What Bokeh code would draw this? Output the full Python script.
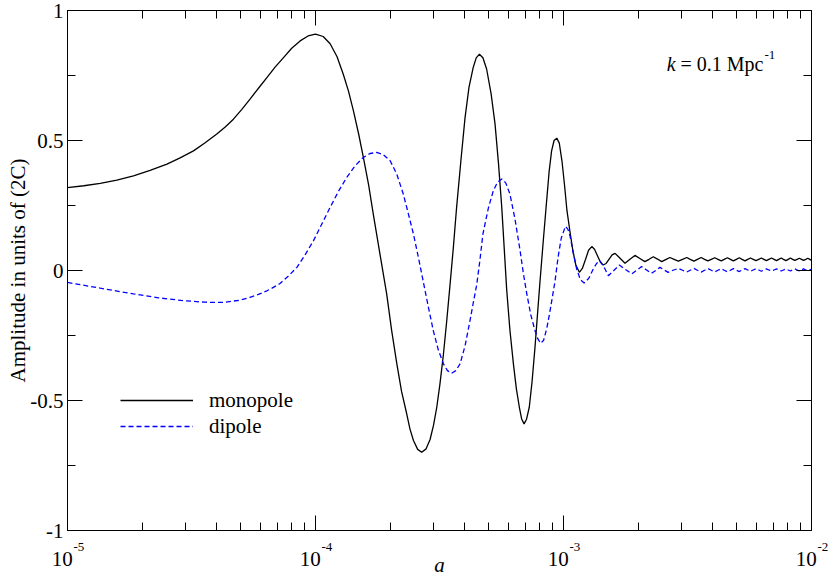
import numpy as np
from bokeh.plotting import figure
from bokeh.models import FixedTicker, LogAxis, LinearAxis, Label, Legend, LegendItem
from bokeh.embed import file_html
from bokeh.resources import INLINE

# ---------------- data ----------------
# monopole: log10(a) and amplitude in units of (2C)
mono_log_a = [
    -5.000, -4.934, -4.868, -4.801, -4.734, -4.667, -4.599, -4.546, -4.492, -4.445,
    -4.398, -4.364, -4.331, -4.297, -4.264, -4.230, -4.196, -4.163, -4.129, -4.096,
    -4.062, -4.030, -4.000, -3.969, -3.941, -3.913, -3.888, -3.867, -3.847, -3.826,
    -3.807, -3.786, -3.767, -3.740, -3.713, -3.693, -3.672, -3.653, -3.632, -3.619,
    -3.605, -3.588, -3.572, -3.554, -3.538, -3.524, -3.511, -3.498, -3.484, -3.471,
    -3.458, -3.444, -3.431, -3.413, -3.397, -3.381, -3.364, -3.352, -3.339, -3.325,
    -3.310, -3.292, -3.276, -3.262, -3.249, -3.239, -3.229, -3.216, -3.202, -3.190,
    -3.178, -3.169, -3.159, -3.149, -3.138, -3.127, -3.115, -3.105, -3.095, -3.081,
    -3.068, -3.058, -3.048, -3.038, -3.027, -3.017, -3.006, -2.996, -2.986, -2.974,
    -2.962, -2.950, -2.936, -2.924, -2.911, -2.899, -2.886, -2.875, -2.863, -2.851,
    -2.840, -2.828, -2.816, -2.804, -2.792, -2.772, -2.752, -2.732, -2.712, -2.692,
    -2.672, -2.655, -2.638, -2.621, -2.604, -2.588, -2.571, -2.554, -2.537, -2.520,
    -2.503, -2.489, -2.474, -2.460, -2.445, -2.431, -2.418, -2.404, -2.390, -2.377,
    -2.364, -2.352, -2.339, -2.327, -2.315, -2.303, -2.291, -2.280, -2.268, -2.257,
    -2.246, -2.235, -2.224, -2.213, -2.202, -2.192, -2.182, -2.172, -2.161, -2.151,
    -2.141, -2.132, -2.122, -2.113, -2.103, -2.094, -2.085, -2.076, -2.067, -2.058,
    -2.049, -2.040, -2.032, -2.023, -2.015, -2.007, -2.000,
]
mono_amp = [
    0.319, 0.326, 0.335, 0.348, 0.364, 0.385, 0.409, 0.433, 0.460, 0.491,
    0.525, 0.552, 0.582, 0.620, 0.659, 0.701, 0.742, 0.782, 0.819, 0.855,
    0.883, 0.902, 0.909, 0.900, 0.872, 0.822, 0.755, 0.690, 0.614, 0.525,
    0.435, 0.330, 0.217, 0.063, -0.090, -0.230, -0.359, -0.465, -0.552, -0.610,
    -0.654, -0.688, -0.699, -0.686, -0.650, -0.595, -0.526, -0.435, -0.321, -0.195,
    -0.060, 0.090, 0.243, 0.430, 0.588, 0.705, 0.781, 0.818, 0.832, 0.818,
    0.775, 0.680, 0.563, 0.410, 0.243, 0.085, -0.075, -0.230, -0.359, -0.455,
    -0.526, -0.570, -0.590, -0.572, -0.526, -0.430, -0.296, -0.170, -0.045, 0.120,
    0.268, 0.380, 0.460, 0.500, 0.509, 0.490, 0.420, 0.330, 0.230, 0.150,
    0.075, 0.020, -0.007, 0.008, 0.043, 0.078, 0.092, 0.082, 0.057, 0.032,
    0.021, 0.027, 0.044, 0.060, 0.066, 0.047, 0.028, 0.043, 0.058, 0.046,
    0.034, 0.043, 0.053, 0.044, 0.034, 0.042, 0.050, 0.043, 0.036, 0.043,
    0.050, 0.043, 0.036, 0.043, 0.050, 0.043, 0.037, 0.043, 0.049, 0.043,
    0.037, 0.043, 0.049, 0.043, 0.037, 0.043, 0.049, 0.043, 0.037, 0.043,
    0.048, 0.043, 0.038, 0.043, 0.048, 0.043, 0.038, 0.043, 0.048, 0.043,
    0.038, 0.043, 0.048, 0.043, 0.038, 0.043, 0.048, 0.043, 0.039, 0.043,
    0.047, 0.043, 0.039, 0.043, 0.047, 0.043, 0.039,
]

# dipole
dip_log_a = [
    -5.000, -4.868, -4.734, -4.634, -4.532, -4.445, -4.371, -4.304, -4.264, -4.230,
    -4.196, -4.170, -4.143, -4.110, -4.075, -4.042, -4.008, -3.975, -3.941, -3.907,
    -3.874, -3.840,
    -3.807, -3.780, -3.753, -3.726, -3.699, -3.672, -3.646, -3.626, -3.605, -3.585,
    -3.565, -3.545, -3.525, -3.505, -3.484, -3.468, -3.451, -3.434, -3.417, -3.397,
    -3.377, -3.364, -3.350, -3.337, -3.325, -3.303, -3.283, -3.266, -3.249, -3.233,
    -3.216, -3.196, -3.175, -3.162, -3.148, -3.132, -3.115, -3.104, -3.092, -3.080,
    -3.068, -3.056, -3.045, -3.034, -3.022, -3.009, -2.992, -2.982, -2.974, -2.961,
    -2.947, -2.932, -2.917, -2.898, -2.880, -2.866, -2.853, -2.836, -2.819, -2.797,
    -2.775, -2.750, -2.725, -2.705, -2.685, -2.665, -2.645, -2.628, -2.611, -2.594,
    -2.578, -2.558, -2.537, -2.520, -2.503, -2.489, -2.474, -2.460, -2.445, -2.431,
    -2.418, -2.404, -2.390, -2.377, -2.364, -2.352, -2.339, -2.327, -2.315, -2.303,
    -2.291, -2.280, -2.268, -2.257, -2.246, -2.235, -2.224, -2.213, -2.202, -2.192,
    -2.182, -2.172, -2.161, -2.151, -2.141, -2.132, -2.122, -2.113, -2.103, -2.094,
    -2.085, -2.076, -2.067, -2.058, -2.049, -2.040, -2.032, -2.023, -2.015, -2.007,
    -2.000,
]
dip_amp = [
    -0.046, -0.068, -0.090, -0.105, -0.116, -0.122, -0.123, -0.114, -0.103, -0.092,
    -0.078, -0.065, -0.050, -0.022, 0.012, 0.060, 0.115, 0.178, 0.243, 0.305,
    0.358, 0.403,
    0.435, 0.450, 0.454, 0.445, 0.422, 0.370, 0.294, 0.220, 0.140, 0.050,
    -0.045, -0.140, -0.231, -0.305, -0.359, -0.385, -0.395, -0.385, -0.359, -0.290,
    -0.193, -0.125, -0.055, 0.040, 0.140, 0.240, 0.307, 0.340, 0.352, 0.337,
    0.294, 0.200, 0.076, -0.010, -0.090, -0.170, -0.231, -0.262, -0.280, -0.268,
    -0.225, -0.165, -0.103, -0.040, 0.050, 0.125, 0.170, 0.158, 0.134, 0.070,
    0.006, -0.035, -0.048, -0.030, 0.006, 0.028, 0.038, 0.012, -0.020, 0.000,
    0.021, 0.004, -0.013, 0.001, 0.015, 0.002, -0.011, 0.000, 0.012, 0.002,
    -0.007, 0.001, 0.008, 0.001, -0.006, 0.001, 0.008, 0.001, -0.006, 0.001,
    0.008, 0.001, -0.005, 0.001, 0.007, 0.001, -0.005, 0.001, 0.007, 0.001,
    -0.004, 0.002, 0.007, 0.002, -0.003, 0.002, 0.007, 0.002, -0.003, 0.002,
    0.006, 0.002, -0.002, 0.002, 0.006, 0.002, -0.002, 0.002, 0.006, 0.002,
    -0.002, 0.002, 0.006, 0.002, -0.002, 0.002, 0.006, 0.002, -0.002, 0.002,
    0.005,
]

series_labels = ["monopole", "dipole"]

# axes
x_decades = [-5, -4, -3, -2]
x_tick_base = ["10", "10", "10", "10"]
x_tick_exp = ["-5", "-4", "-3", "-2"]
x_minor_mult = [2, 3, 4, 5, 6, 7, 8, 9]
y_ticks = [-1, -0.5, 0, 0.5, 1]
y_tick_labels = ["-1", "-0.5", "0", "0.5", "1"]
y_minor = [-0.75, -0.25, 0.25, 0.75]

x_title = "a"
y_title = "Amplitude in units of (2C)"
note_parts = ["k", "= 0.1 Mpc", "-1"]
note_log_a = -2.584
note_amp = 0.794

FONT = "Liberation Serif"
FS = 21  # px
NB = "\u00a0"  # non-breaking space used to shift centred tick labels sideways

# ---------------- figure ----------------
x_major = [10.0 ** d for d in x_decades]
x_minor = [m * 10.0 ** d for d in x_decades[:-1] for m in x_minor_mult]

p = figure(
    x_axis_type="log", x_range=(x_major[0], x_major[-1]), y_range=(y_ticks[0], y_ticks[-1]),
    frame_width=744, frame_height=520,
    min_border_left=67, min_border_right=19, min_border_top=10, min_border_bottom=40,
    output_backend="svg", toolbar_location=None,
    background_fill_color="white", border_fill_color="white",
)
p.grid.visible = False
p.outline_line_color = "black"
p.outline_line_width = 1


def style_axis(ax, ticker):
    ax.ticker = ticker
    ax.major_tick_in = 15
    ax.major_tick_out = 0
    ax.minor_tick_in = 8
    ax.minor_tick_out = 0
    ax.axis_line_color = "black"
    ax.major_tick_line_color = "black"
    ax.minor_tick_line_color = "black"
    ax.axis_line_width = 1
    ax.major_tick_line_width = 1
    ax.minor_tick_line_width = 1


def hide_labels(ax, ticks):
    ax.major_label_overrides = {t: "" for t in ticks}
    ax.major_label_text_font_size = "0px"
    ax.major_label_standoff = 0


# bottom x axis: ticks + exponent part of the 10^n labels
xb = p.xaxis[0]
style_axis(xb, FixedTicker(ticks=x_major, minor_ticks=x_minor))
xb.major_label_overrides = {t: NB * 7 + e for t, e in zip(x_major, x_tick_exp)}
xb.major_label_text_font = FONT
xb.major_label_text_font_size = "13px"
xb.major_label_text_color = "black"
xb.major_label_standoff = 8

# second bottom axis: the "10" part of the labels and the axis title
xb2 = LogAxis(ticker=FixedTicker(ticks=x_major, minor_ticks=[]))
xb2.axis_line_color = None
xb2.major_tick_line_color = None
xb2.minor_tick_line_color = None
xb2.major_tick_in = 0
xb2.major_tick_out = 0
xb2.minor_tick_in = 0
xb2.minor_tick_out = 0
xb2.major_label_overrides = {t: b + NB * 2 for t, b in zip(x_major, x_tick_base)}
xb2.major_label_text_font = FONT
xb2.major_label_text_font_size = f"{FS}px"
xb2.major_label_text_color = "black"
xb2.major_label_standoff = -10
xb2.axis_label = x_title
xb2.axis_label_text_font = FONT
xb2.axis_label_text_font_size = f"{FS}px"
xb2.axis_label_text_font_style = "italic"
xb2.axis_label_text_color = "black"
xb2.axis_label_standoff = -21
p.add_layout(xb2, "below")

# left y axis
yl = p.yaxis[0]
style_axis(yl, FixedTicker(ticks=y_ticks, minor_ticks=y_minor))
yl.major_label_overrides = {t: s for t, s in zip(y_ticks, y_tick_labels)}
yl.major_label_text_font = FONT
yl.major_label_text_font_size = f"{FS}px"
yl.major_label_text_color = "black"
yl.major_label_standoff = 4
yl.axis_label = y_title
yl.axis_label_text_font = FONT
yl.axis_label_text_font_size = f"{FS}px"
yl.axis_label_text_font_style = "normal"
yl.axis_label_text_color = "black"
yl.axis_label_standoff = -3

# mirrored top / right axes (ticks only)
xt = LogAxis()
style_axis(xt, FixedTicker(ticks=x_major, minor_ticks=x_minor))
hide_labels(xt, x_major)
p.add_layout(xt, "above")

yr = LinearAxis()
style_axis(yr, FixedTicker(ticks=y_ticks, minor_ticks=y_minor))
hide_labels(yr, y_ticks)
p.add_layout(yr, "right")

# ---------------- curves ----------------
mono_a = 10.0 ** np.array(mono_log_a)
dip_a = 10.0 ** np.array(dip_log_a)

r_mono = p.line(mono_a, mono_amp, line_color="black", line_width=1.3)
r_dip = p.line(dip_a, dip_amp, line_color="#0000ff", line_width=1.3, line_dash="5 3")

legend = Legend(
    items=[LegendItem(label=series_labels[0], renderers=[r_mono]),
           LegendItem(label=series_labels[1], renderers=[r_dip])],
    location=(53, 91), padding=0, margin=0, spacing=0,
    glyph_width=73, glyph_height=26, label_height=26, label_standoff=16,
    label_text_font=FONT, label_text_font_size=f"{FS}px", label_text_color="black",
    border_line_alpha=0, background_fill_alpha=0,
)
p.add_layout(legend)

# annotation k = 0.1 Mpc^-1 (inside the frame)
NF = 20
xa = 10.0 ** note_log_a


def lab(**kw):
    base = dict(text_font=FONT, text_font_size=f"{NF}px", text_color="black",
                text_baseline="alphabetic", text_align="left")
    base.update(kw)
    p.add_layout(Label(**base))


lab(x=xa, y=note_amp, text=note_parts[0], text_font_style="italic")
lab(x=xa, y=note_amp, x_offset=0.694 * NF, text=note_parts[1])
lab(x=xa, y=note_amp, x_offset=0.694 * NF + 4.147 * NF + 1, y_offset=9, text=note_parts[2],
    text_font_size="13px")

html = file_html(p, INLINE)
open("out.html", "w").write(html)
